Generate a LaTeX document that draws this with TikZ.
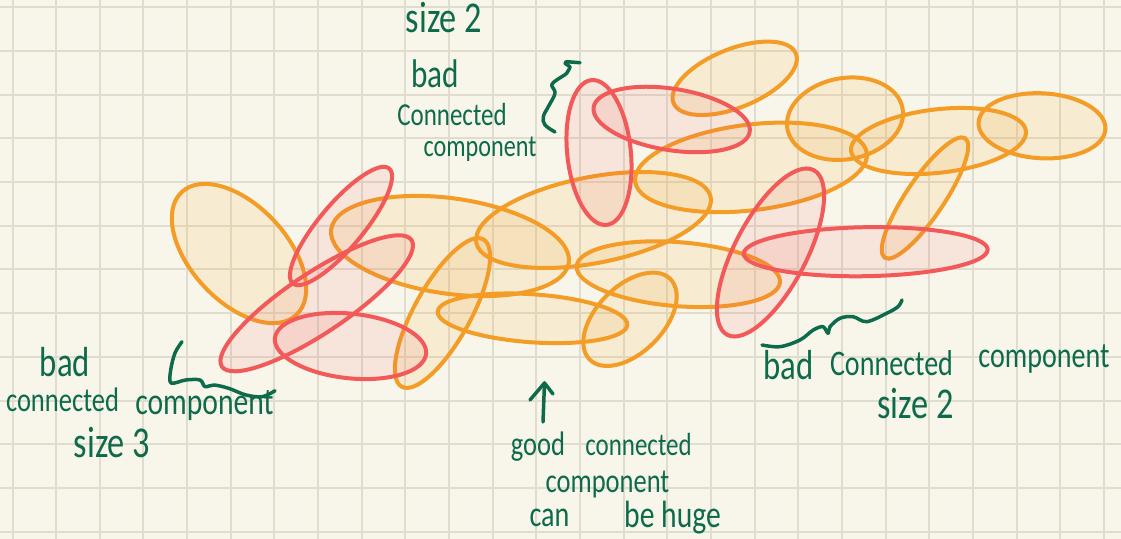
\documentclass[tikz,border=0pt]{standalone}
\usepackage{fontspec}
\usetikzlibrary{shapes.geometric}
\newfontfamily\handfont[FakeStretch=0.78]{Carlito}
\definecolor{paper}{HTML}{F8F6EA}
\definecolor{gridline}{HTML}{E0DDCF}
\definecolor{ostroke}{HTML}{F39C26}
\definecolor{rstroke}{HTML}{F25A5A}
\definecolor{ink}{HTML}{0D6B4B}
\tikzset{
  blob/.style={ellipse, inner sep=0pt, outer sep=0pt, line width=2pt},
  goodset/.style n args={3}{blob, draw=ostroke, fill=ostroke, fill opacity=0.12,
    minimum width=#1pt, minimum height=#2pt, rotate=#3},
  badset/.style n args={3}{blob, draw=rstroke, fill=rstroke, fill opacity=0.11,
    minimum width=#1pt, minimum height=#2pt, rotate=#3},
  hand/.style={text=ink, inner sep=0pt, anchor=base,
    font=\handfont\fontsize{#1}{#1}\selectfont},
  pen/.style={draw=ink, line width=1.75pt, line cap=round, line join=round},
}
\begin{document}
\begin{tikzpicture}[x=0.5pt, y=-0.5pt]
\useasboundingbox (0,0) rectangle (1121,539);
\fill[paper] (0,0) rectangle (1121,539);
% squared paper
\foreach \k in {0,...,25}
  \draw[gridline, line width=1pt] ({12.5+43.66*\k},0) -- ({12.5+43.66*\k},539);
\foreach \k in {0,...,12}
  \draw[gridline, line width=1pt] (0,{7.3+43.7*\k}) -- (1121,{7.3+43.7*\k});

% orange sets
\node[goodset={84}{48}{-47}]      (o1)  at (239,253.5) {};
\node[goodset={120}{47.7}{-8}]    (o2)  at (450,246) {};
\node[goodset={119.4}{43}{11}]    (o3)  at (593.5,220) {};
\node[goodset={116.7}{42.8}{7}]   (o4)  at (751,167.4) {};
\node[goodset={66}{29.3}{22}]     (o5)  at (734.7,78.3) {};
\node[goodset={58.5}{40.6}{10}]   (o6)  at (845,118.7) {};
\node[goodset={88}{31.7}{6.5}]    (o7)  at (938.5,141) {};
\node[goodset={63.5}{32.5}{-3}]   (o8)  at (1042,125.8) {};
\node[goodset={72}{19}{56}]       (o9)  at (925,198) {};
\node[goodset={95}{24}{-4}]       (o10) at (532.5,318.3) {};
\node[goodset={84.2}{28.1}{61}]   (o11) at (442.5,313) {};
\node[goodset={57}{33.3}{45}]     (o12) at (630,319.3) {};
\node[goodset={102}{32}{-4.5}]    (o13) at (678.3,274.2) {};

% red sets
\node[badset={75}{22}{50}]        (r1) at (341,226) {};
\node[badset={114}{30}{33.7}]     (r2) at (316.7,303.3) {};
\node[badset={76}{32.3}{-6}]      (r3) at (350.5,346) {};
\node[badset={72.8}{31.8}{-84}]   (r4) at (599,152.5) {};
\node[badset={79}{30.7}{-9}]      (r5) at (671.7,119.5) {};
\node[badset={93}{35.8}{62.3}]    (r6) at (770.5,252.5) {};
\node[badset={122}{24.5}{1}]      (r7) at (865.7,251.7) {};

% top note
\node[hand=22] (topsize)  at (444,33)  {size 2};
\node[hand=20] (topbad)   at (435,88)  {bad};
\node[hand=16] (topconn)  at (452,126) {Connected};
\node[hand=15.5] (topcomp) at (480,157) {component};
\coordinate (topfoot) at (555,132);
\coordinate (toptip) at (570,66.7);
\draw[pen] plot[smooth, tension=0.6] coordinates
  {(topfoot) (545,125) (543.3,116.7) (548.3,106.7) (555,93.3) (551.7,85)
   (556.7,80) (566.7,73.3) (toptip)};
\draw[pen] (toptip) .. controls (566,64) and (563,63) .. (566.7,61.7) -- (580,62.7);

% left note
\node[hand=21] (lbad)   at (65,377)    {bad};
\node[hand=17] (lconn)  at (62.5,412)  {connected};
\node[hand=19] (lcomp)  at (204.5,415) {component};
\node[hand=22] (lsize)  at (112,458)   {size 3};
\coordinate (lbraceA) at (182,341.7);
\coordinate (lbraceB) at (275,390.7);
\draw[pen] plot[smooth, tension=0.55] coordinates
  {(lbraceA) (175,353) (170.7,370) (171,383) (185.7,380) (200,380)
   (205,386.7) (214,385) (228.6,388.3) (246,395) (262.5,396.7) (lbraceB)};

% bottom note
\coordinate (gtail) at (543,422);
\coordinate (ghead) at (544.5,383);
\coordinate (gwingL) at (530,400);
\coordinate (gwingR) at (553,394);
\draw[pen] (gtail) -- (ghead);
\draw[pen] (gwingL) -- (ghead) -- (gwingR);
\node[hand=17] (ggood)  at (538,456)   {good};
\node[hand=16] (gconn)  at (638.5,456) {connected};
\node[hand=17] (gcomp)  at (607.5,493) {component};
\node[hand=18] (gcan)   at (549.5,527) {can};
\node[hand=19] (ghuge)  at (672.5,528) {be huge};

% right note
\coordinate (rbraceA) at (762,345);
\coordinate (rbraceB) at (902,300);
\draw[pen] plot[smooth, tension=0.55] coordinates
  {(rbraceA) (780,346.7) (800,340) (813.3,330) (823,326.7) (828,333.3)
   (830,326.7) (840,318.3) (853,316.7) (866.7,321.7) (886.7,313.3) (898,306.7) (rbraceB)};
\node[hand=21] (rbad)   at (788.5,380) {bad};
\node[hand=18] (rconn)  at (891.5,376) {Connected};
\node[hand=18] (rcomp)  at (1044,368)  {component};
\node[hand=22] (rsize)  at (915.5,419) {size 2};
\end{tikzpicture}
\end{document}
